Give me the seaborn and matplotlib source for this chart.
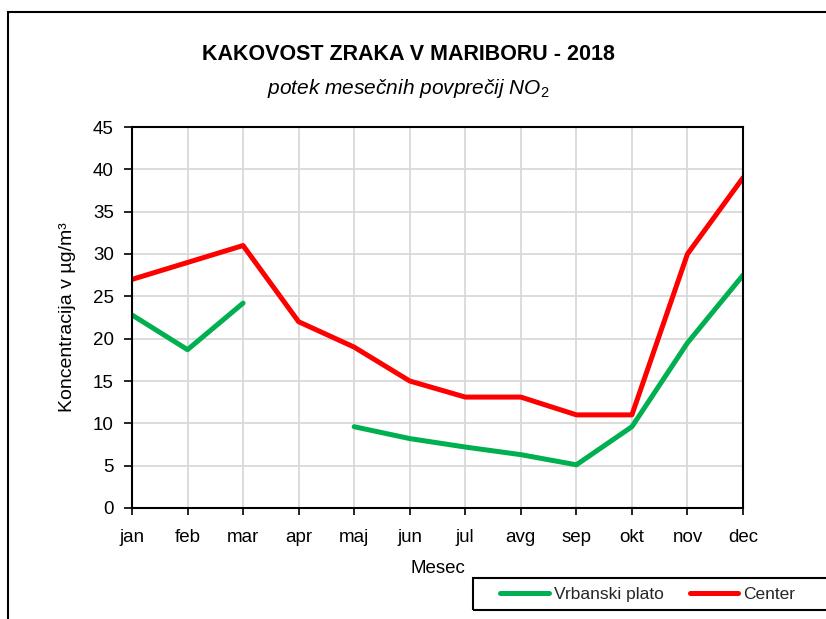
import numpy as np
import pandas as pd
import seaborn as sns
import matplotlib
matplotlib.use("Agg")
import matplotlib.pyplot as plt
from matplotlib.patches import Rectangle
from matplotlib.lines import Line2D

months = ["jan", "feb", "mar", "apr", "maj", "jun", "jul", "avg", "sep", "okt", "nov", "dec"]
vrbanski = [22.8, 18.7, 24.2, None, 9.6, 8.2, 7.2, 6.3, 5.1, 9.6, 19.5, 27.5]
center = [27.0, 29.0, 31.0, 22.0, 19.0, 15.0, 13.1, 13.1, 11.0, 11.0, 30.0, 39.0]
series_names = ["Vrbanski plato", "Center"]
yticks = [0, 5, 10, 15, 20, 25, 30, 35, 40, 45]

sns.set_theme(style="white")
fam = ["Liberation Sans", "DejaVu Sans"]
plt.rcParams["font.family"] = fam
plt.rcParams["mathtext.fontset"] = "custom"
plt.rcParams["mathtext.rm"] = "Liberation Sans"
plt.rcParams["mathtext.it"] = "Liberation Sans:italic"

rows = []
seg = 0
for name, vals in zip(series_names, [vrbanski, center]):
    seg += 1
    for i, v in enumerate(vals):
        if v is None:
            seg += 1
            continue
        rows.append({"x": i, "y": v, "series": name, "seg": seg})
df = pd.DataFrame(rows)

colors = {"Vrbanski plato": "#00B050", "Center": "#FF0000"}

fig = plt.figure(figsize=(8.26, 6.19), dpi=100)
ax = fig.add_axes([132 / 826, 1 - 508 / 619, (743 - 132) / 826, (508 - 127) / 619])

sns.lineplot(data=df, x="x", y="y", hue="series", units="seg", estimator=None,
             palette=colors, hue_order=series_names, linewidth=3.6, ax=ax,
             legend=False, sort=False)

ax.set_xlim(0, 11)
ax.set_ylim(0, 45)
ax.set_xticks(range(len(months)))
ax.set_xticklabels(months)
ax.set_yticks(yticks)
ax.grid(True, color="#d9d9d9", linewidth=1.3)
ax.set_axisbelow(True)
for s in ax.spines.values():
    s.set_color("black")
    s.set_linewidth(1.5)
ax.tick_params(axis="both", direction="out", width=1.2, color="black",
               labelsize=13.5, labelcolor="black", left=True, bottom=True)
ax.tick_params(axis="y", length=6, pad=7)
ax.tick_params(axis="x", length=5, pad=10)
ax.set_xlabel("Mesec", fontsize=13.5, color="black", labelpad=10)
ax.set_ylabel("Koncentracija v µg/m³", fontsize=14, color="black", labelpad=12)

fig.text(0.494, 1 - 55 / 619, "KAKOVOST ZRAKA V MARIBORU - 2018", ha="center", va="center",
         fontsize=15.5, fontweight="bold", color="black")
fig.text(0.494, 1 - 88 / 619, r"potek mesečnih povprečij NO$_{2}$", ha="center", va="center",
         fontsize=15, fontstyle="italic", color="black")

# outer chart frame
fig.patches.append(Rectangle((8 / 826, -0.1), 1.2, 1 - 12 / 619 + 0.1, transform=fig.transFigure,
                             fill=False, edgecolor="black", linewidth=1.5))
# legend frame
fig.patches.append(Rectangle((473 / 826, 1 - 610 / 619), 0.6, 32 / 619, transform=fig.transFigure,
                             fill=False, edgecolor="black", linewidth=1.5))

handles = [Line2D([], [], color=colors[n], linewidth=3.6, solid_capstyle="round") for n in series_names]
leg = fig.legend(handles, series_names, loc="center left", bbox_to_anchor=(500 / 826, 1 - 594 / 619),
                 ncol=2, fontsize=12.5, frameon=False, handlelength=2.8,
                 handletextpad=0.3, columnspacing=1.5, borderpad=0, borderaxespad=0)

fig.savefig("out.png", dpi=100)
